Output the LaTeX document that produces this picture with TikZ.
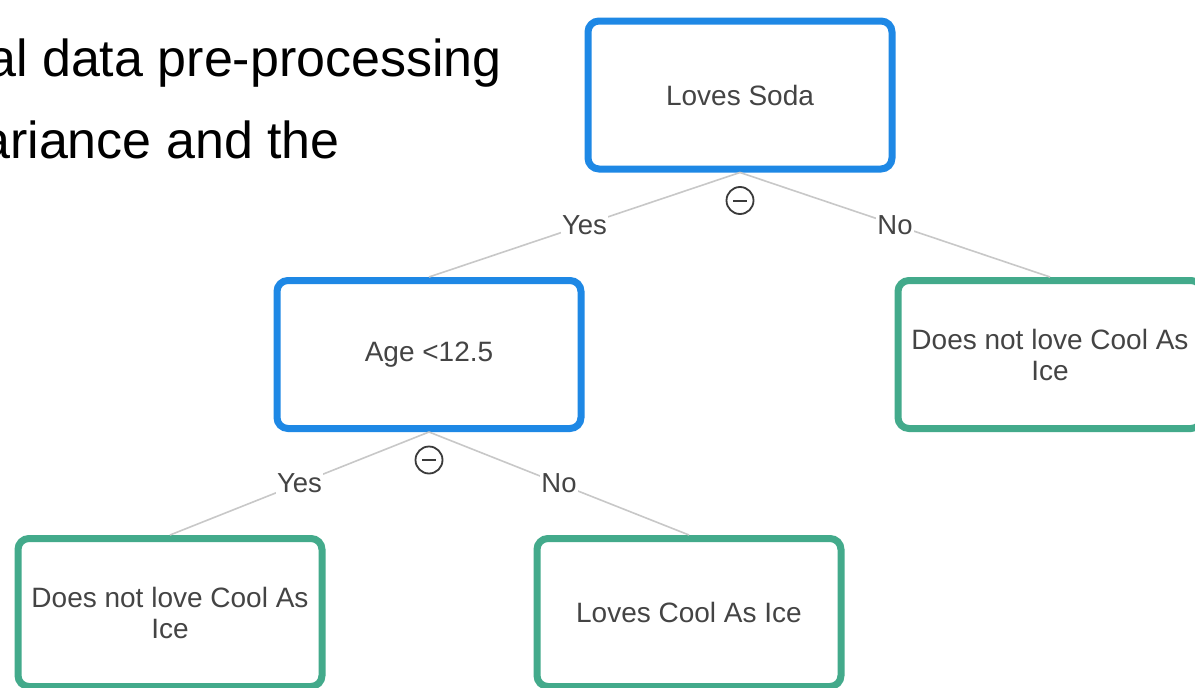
\documentclass[tikz,border=0pt]{standalone}
\usepackage{fontspec}
\setmainfont{Liberation Sans}
\definecolor{splitblue}{HTML}{1E88E5}
\definecolor{leafgreen}{HTML}{43AA8B}
\definecolor{labelgray}{HTML}{444444}
\definecolor{edgegray}{HTML}{C8C8C8}
\definecolor{icongray}{HTML}{3A3A3A}
\tikzset{
  treebox/.style={rectangle, rounded corners=11pt, line width=7pt, fill=white,
    minimum width=304pt, minimum height=148pt, inner sep=0pt, align=center,
    text=labelgray, font=\fontsize{28}{31}\selectfont},
  splitbox/.style={treebox, draw=splitblue},
  leafbox/.style={treebox, draw=leafgreen},
  branch/.style={draw=edgegray, line width=1.6pt},
  branchlabel/.style={midway, fill=white, inner sep=1pt, text=labelgray,
    font=\fontsize{27.5}{31}\selectfont},
  collapse/.style={circle, draw=icongray, line width=1.8pt, fill=white,
    minimum size=27pt, inner sep=0pt},
  slidetext/.style={inner sep=0pt, text=black, font=\fontsize{52}{60}\selectfont}
}
\begin{document}
\begin{tikzpicture}[x=1pt, y=-1pt]
  \useasboundingbox (0,0) rectangle (1195,688);
  \clip (0,0) rectangle (1195,688);
  \fill[white] (0,0) rectangle (1195,688);

  % slide text behind the tree
  \node[slidetext, anchor=base east] (line1) at (502,76) {al data pre-processing};
  \node[slidetext, anchor=base east] (line2) at (340,158) {ariance and the};

  % tree nodes
  \node[splitbox] (soda) at (740,95) {Loves Soda};
  \node[splitbox] (age) at (429,354.5) {Age <12.5};
  \node[leafbox] (noRight) at (1050,354.5) {Does not love Cool As\\Ice};
  \node[leafbox] (noLeft) at (170,612.5) {Does not love Cool As\\Ice};
  \node[leafbox] (loves) at (689,612.5) {Loves Cool As Ice};

  % branches with their labels
  \path[branch] (soda.south) -- (age.north) node[branchlabel] {Yes};
  \path[branch] (soda.south) -- (noRight.north) node[branchlabel] {No};
  \path[branch] (age.south) -- (noLeft.north) node[branchlabel] {Yes};
  \path[branch] (age.south) -- (loves.north) node[branchlabel] {No};

  % collapse toggles
  \node[collapse] (toggleA) at (740,200.5) {};
  \draw[icongray, line width=2pt] ([xshift=-7pt]toggleA.center) -- ([xshift=7pt]toggleA.center);
  \node[collapse] (toggleB) at (429,460) {};
  \draw[icongray, line width=2pt] ([xshift=-7pt]toggleB.center) -- ([xshift=7pt]toggleB.center);
\end{tikzpicture}
\end{document}
